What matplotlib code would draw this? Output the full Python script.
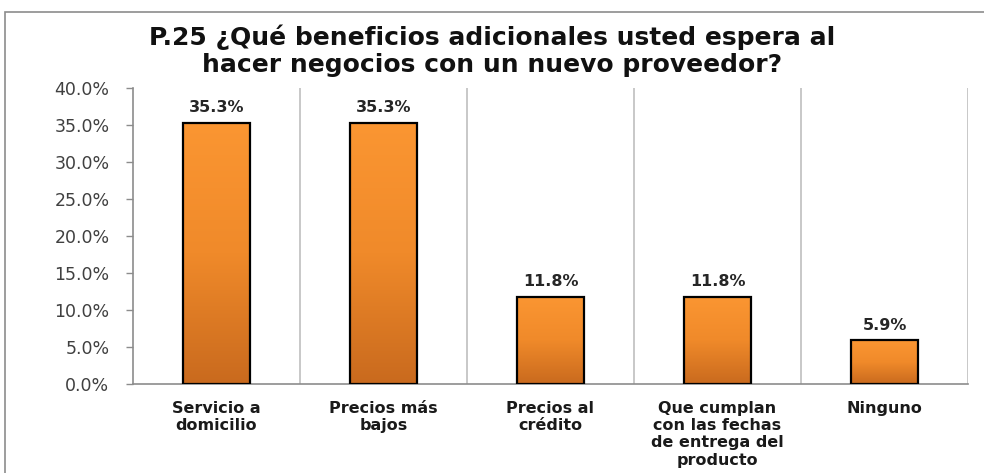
import numpy as np
import matplotlib
matplotlib.use("Agg")
import matplotlib.pyplot as plt
from matplotlib.patches import Rectangle
from matplotlib.colors import LinearSegmentedColormap

categorias = ["Servicio a\ndomicilio", "Precios más\nbajos", "Precios al\ncrédito",
              "Que cumplan\ncon las fechas\nde entrega del\nproducto", "Ninguno"]
porcentajes = [35.3, 35.3, 11.8, 11.8, 5.9]
yticks = [0, 5, 10, 15, 20, 25, 30, 35, 40]
titulo = "P.25 ¿Qué beneficios adicionales usted espera al\nhacer negocios con un nuevo proveedor?"

fig = plt.figure(figsize=(9.84, 4.73), dpi=100)
fig.patches.append(Rectangle((5 / 984, -0.1), 1.2, 1.1 - 12 / 473, transform=fig.transFigure,
                             fill=False, edgecolor="#8c8c8c", linewidth=1.2))

ax = fig.add_axes([133 / 984, 89 / 473, (968 - 133) / 984, (384 - 88) / 473])
x = np.arange(len(categorias))
bars = ax.bar(x, porcentajes, width=0.4, color="none", edgecolor="black", linewidth=1.6, zorder=3)

# degradado naranja
cmap = LinearSegmentedColormap.from_list("nar", ["#c96a1e", "#f08a2a", "#fb9632"])
grad = np.linspace(0, 1, 256).reshape(-1, 1)
for b in bars:
    x0, w, h = b.get_x(), b.get_width(), b.get_height()
    im = ax.imshow(grad, cmap=cmap, aspect="auto", origin="lower",
                   extent=[x0, x0 + w, 0, h], zorder=2)
    im.set_clip_path(b)
    ax.text(x0 + w / 2, h + 1.0, f"{h:.1f}%", ha="center", va="bottom",
            fontsize=11.5, fontweight="bold", color="#262626", family="DejaVu Sans")

ax.set_xlim(-0.5, len(categorias) - 0.5)
ax.set_ylim(0, 40)
ax.set_yticks(yticks)
ax.set_yticklabels([f"{v:.1f}%" for v in yticks], fontsize=12.5, color="#404040")
ax.set_xticks(x)
ax.set_xticklabels(categorias, fontsize=11.5, fontweight="bold", family="DejaVu Sans",
                   linespacing=1.2, va="top", color="#1a1a1a")
ax.tick_params(axis="x", length=0, pad=12)
ax.tick_params(axis="y", length=5, color="#8c8c8c", width=1, pad=12)

for gx in np.arange(0.5, len(categorias), 1.0):
    ax.axvline(gx, color="#bfbfbf", linewidth=1.2, zorder=1)

for s in ["top", "right"]:
    ax.spines[s].set_visible(False)
for s in ["left", "bottom"]:
    ax.spines[s].set_color("#8c8c8c")
    ax.spines[s].set_linewidth(1.2)

fig.text(0.5, 1 - 25 / 473, titulo, ha="center", va="top", fontsize=18, fontweight="bold",
         family="DejaVu Sans", color="#111111", linespacing=1.15)

fig.savefig("out.png", dpi=100)
